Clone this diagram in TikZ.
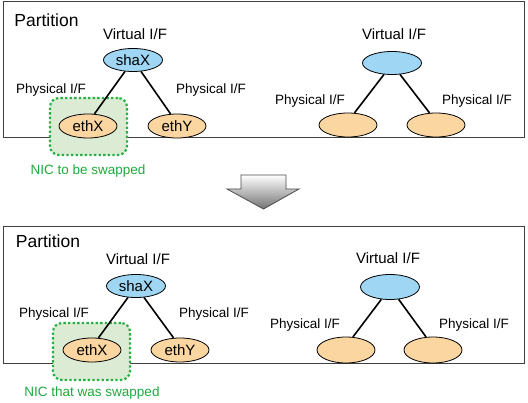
\documentclass[tikz,border=0pt]{standalone}
\usepackage{fontspec}
\setmainfont{Liberation Sans}
\usetikzlibrary{shapes.geometric}
\begin{document}
\begin{tikzpicture}[x=1pt,y=-1pt,
  partbox/.style={draw=black!75,line width=1pt,fill=white},
  vif/.style={ellipse,draw=black,line width=0.8pt,fill=blueF,minimum width=59pt,minimum height=23pt,inner sep=0pt,font=\fontsize{15}{17}\selectfont},
  pif/.style={ellipse,draw=black,line width=0.8pt,fill=orangeF,minimum width=58pt,minimum height=24pt,inner sep=0pt,font=\fontsize{15}{17}\selectfont},
  nicbox/.style={draw=greenL,fill=greenF,line width=2.2pt,dash pattern=on 2.4pt off 2.2pt,rounded corners=9pt},
  link/.style={line width=1.6pt,draw=black},
  ptitle/.style={font=\fontsize{17.5}{20}\selectfont,inner sep=0pt},
  vlabel/.style={font=\fontsize{15}{18}\selectfont,inner sep=0pt},
  plabel/.style={font=\fontsize{13.5}{16}\selectfont,inner sep=0pt},
  niclabel/.style={font=\fontsize{13.5}{16}\selectfont,inner sep=0pt,text=greenT},
]
\definecolor{blueF}{RGB}{158,214,244}
\definecolor{orangeF}{RGB}{251,214,160}
\definecolor{greenF}{RGB}{220,236,212}
\definecolor{greenL}{RGB}{40,176,70}
\definecolor{greenT}{RGB}{30,170,60}
\useasboundingbox (0,0) rectangle (528,403);

% ---------- top partition ----------
\node[partbox,minimum width=521pt,minimum height=136pt,inner sep=0pt] (part1) at (263.5,70) {};
\node[ptitle] (pt1) at (46.5,20) {Partition};
\node[nicbox,minimum width=77pt,minimum height=57pt] (nic1) at (88.5,126.5) {};
\node[vlabel] (vl1) at (135,34) {Virtual I/F};
\node[vif] (sha1) at (133,60) {shaX};
\node[pif] (ethx1) at (88,126) {ethX};
\node[pif] (ethy1) at (177,126) {ethY};
\node[plabel] (pl1) at (51,90) {Physical I/F};
\node[plabel] (pr1) at (211,90) {Physical I/F};
\node[niclabel] (nl1) at (88,171) {NIC to be swapped};
\draw[link] (sha1.-125) -- (ethx1.62);
\draw[link] (sha1.-55) -- (ethy1.118);

\node[vlabel] (vl2) at (394,34) {Virtual I/F};
\node[vif] (v2) at (392,63) {};
\node[pif] (p2a) at (348,125) {};
\node[pif] (p2b) at (436,125) {};
\node[plabel] (pl2) at (310,101) {Physical I/F};
\node[plabel] (pr2) at (477,101) {Physical I/F};
\draw[link] (v2.-125) -- (p2a.62);
\draw[link] (v2.-55) -- (p2b.118);

% ---------- arrow ----------
\shade[top color=white,bottom color=black!55,draw=black!70,line width=0.8pt]
  (241,175) -- (286,175) -- (286,189) -- (299,189) -- (263.5,209) -- (227,189) -- (241,189) -- cycle;

% ---------- bottom partition ----------
\node[partbox,minimum width=521pt,minimum height=137pt,inner sep=0pt] (part2) at (263.5,295.5) {};
\node[ptitle] (pt2) at (48,241) {Partition};
\node[nicbox,minimum width=77pt,minimum height=57pt] (nic2) at (91.5,351.5) {};
\node[vlabel] (vl3) at (138,259) {Virtual I/F};
\node[vif] (sha2) at (136,286) {shaX};
\node[pif] (ethx2) at (92,350) {ethX};
\node[pif] (ethy2) at (180,350) {ethY};
\node[plabel] (pl3) at (54,314) {Physical I/F};
\node[plabel] (pr3) at (214,314) {Physical I/F};
\node[niclabel] (nl2) at (92,393) {NIC that was swapped};
\draw[link] (sha2.-125) -- (ethx2.62);
\draw[link] (sha2.-55) -- (ethy2.118);

\node[vlabel] (vl4) at (388,258) {Virtual I/F};
\node[vif,minimum height=25pt] (v4) at (390,287) {};
\node[pif,minimum height=26pt] (p4a) at (346,350) {};
\node[pif,minimum height=26pt] (p4b) at (433,350) {};
\node[plabel] (pl4) at (305,325) {Physical I/F};
\node[plabel] (pr4) at (474,325) {Physical I/F};
\draw[link] (v4.-125) -- (p4a.62);
\draw[link] (v4.-55) -- (p4b.118);
\end{tikzpicture}
\end{document}
